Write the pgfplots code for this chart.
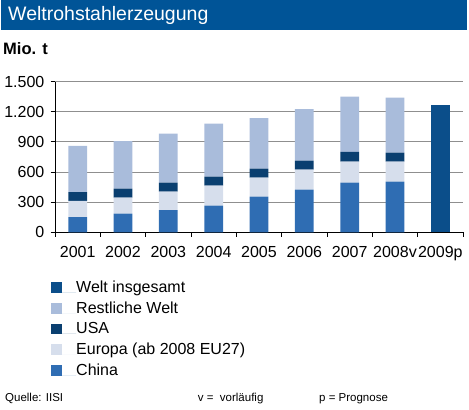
\documentclass[border=0pt]{standalone}
\usepackage{fontspec}
\setmainfont{Liberation Sans}
\usepackage{pgfplots}
\pgfplotsset{compat=1.18}
\definecolor{titlebar}{RGB}{0,84,151}
\definecolor{cChina}{RGB}{47,109,179}
\definecolor{cEuropa}{RGB}{214,222,236}
\definecolor{cUSA}{RGB}{10,63,112}
\definecolor{cRest}{RGB}{169,188,219}
\definecolor{cWelt}{RGB}{11,78,138}
\begin{document}
\begin{tikzpicture}
\path[use as bounding box] (0pt,0pt) rectangle (469pt,410pt);
\fill[titlebar] (1pt,380pt) rectangle (467pt,410pt);
\node[anchor=base west, inner sep=0pt, text=white, font=\fontsize{19.5}{23}\selectfont] at (8pt,389pt) {Weltrohstahlerzeugung};
\node[anchor=base west, inner sep=0pt, font=\fontsize{16.5}{20}\selectfont\bfseries] at (3pt,355pt) {Mio. t};
\begin{axis}[
  at={(55pt,177.7pt)}, anchor=south west,
  scale only axis, width=408pt, height=150.6pt,
  ybar stacked, bar width=18.7pt,
  xmin=-0.5, xmax=8.5, ymin=0, ymax=1500,
  axis x line*=bottom, axis y line*=left,
  axis line style={black, line width=0.9pt},
  ytick={0,300,...,1500},
  ymajorgrids, grid style={gray!88, line width=0.9pt},
  tick align=outside, major tick length=4.3pt,
  tick style={black, line width=0.9pt},
  xtick={-0.5,0.5,...,8.5}, xticklabels={},
  extra x ticks={0,1,...,8},
  extra x tick labels={2001,2002,2003,2004,2005,2006,2007,2008v,2009p},
  extra x tick style={major tick length=0pt, xticklabel style={yshift=-10.4pt}},
  /pgf/number format/assume math mode=true,
  /pgf/number format/1000 sep={.},
  ticklabel style={font=\fontsize{16}{19}\selectfont},
  yticklabel style={xshift=-2.8pt},
  reverse legend,
  legend style={at={(rel axis cs:-0.0098,-0.3187)}, anchor=north west, draw=none, fill=none,
    inner sep=0pt, row sep=4.7pt, column sep=0pt,
    nodes={inner sep=0pt, text height=12pt, text depth=4pt, anchor=base west},
    font=\fontsize{16}{19}\selectfont},
  legend cell align=left,
  legend image code/.code={\fill[#1] (0pt,-0.5pt) rectangle (10.7pt,10.2pt); \path (0pt,0pt) -- (25pt,0pt);},
]
\addplot[fill=cChina, draw=none] coordinates {(0,152) (1,186) (2,222) (3,265) (4,355) (5,425) (6,494) (7,504) (8,0)};
\addlegendentry{China}
\addplot[fill=cEuropa, draw=none] coordinates {(0,160) (1,159) (2,183) (3,199) (4,189) (5,199) (6,209) (7,199) (8,0)};
\addlegendentry{Europa (ab 2008 EU27)}
\addplot[fill=cUSA, draw=none] coordinates {(0,89) (1,89) (2,89) (3,90) (4,90) (5,89) (6,97) (7,90) (8,0)};
\addlegendentry{USA}
\addplot[fill=cRest, draw=none] coordinates {(0,459) (1,475) (2,488) (3,528) (4,504) (5,515) (6,551) (7,548) (8,0)};
\addlegendentry{Restliche Welt}
\addplot[fill=cWelt, draw=none] coordinates {(0,0) (1,0) (2,0) (3,0) (4,0) (5,0) (6,0) (7,0) (8,1271)};
\addlegendentry{Welt insgesamt}
\end{axis}
\node[anchor=base west, inner sep=0pt, font=\fontsize{11.5}{14}\selectfont] at (5pt,9pt) {Quelle: IISI};
\node[anchor=base west, inner sep=0pt, font=\fontsize{11.5}{14}\selectfont] at (197.7pt,9pt) {v =\ \ vorläufig};
\node[anchor=base west, inner sep=0pt, font=\fontsize{11.5}{14}\selectfont] at (319pt,9pt) {p = Prognose};
\end{tikzpicture}
\end{document}
